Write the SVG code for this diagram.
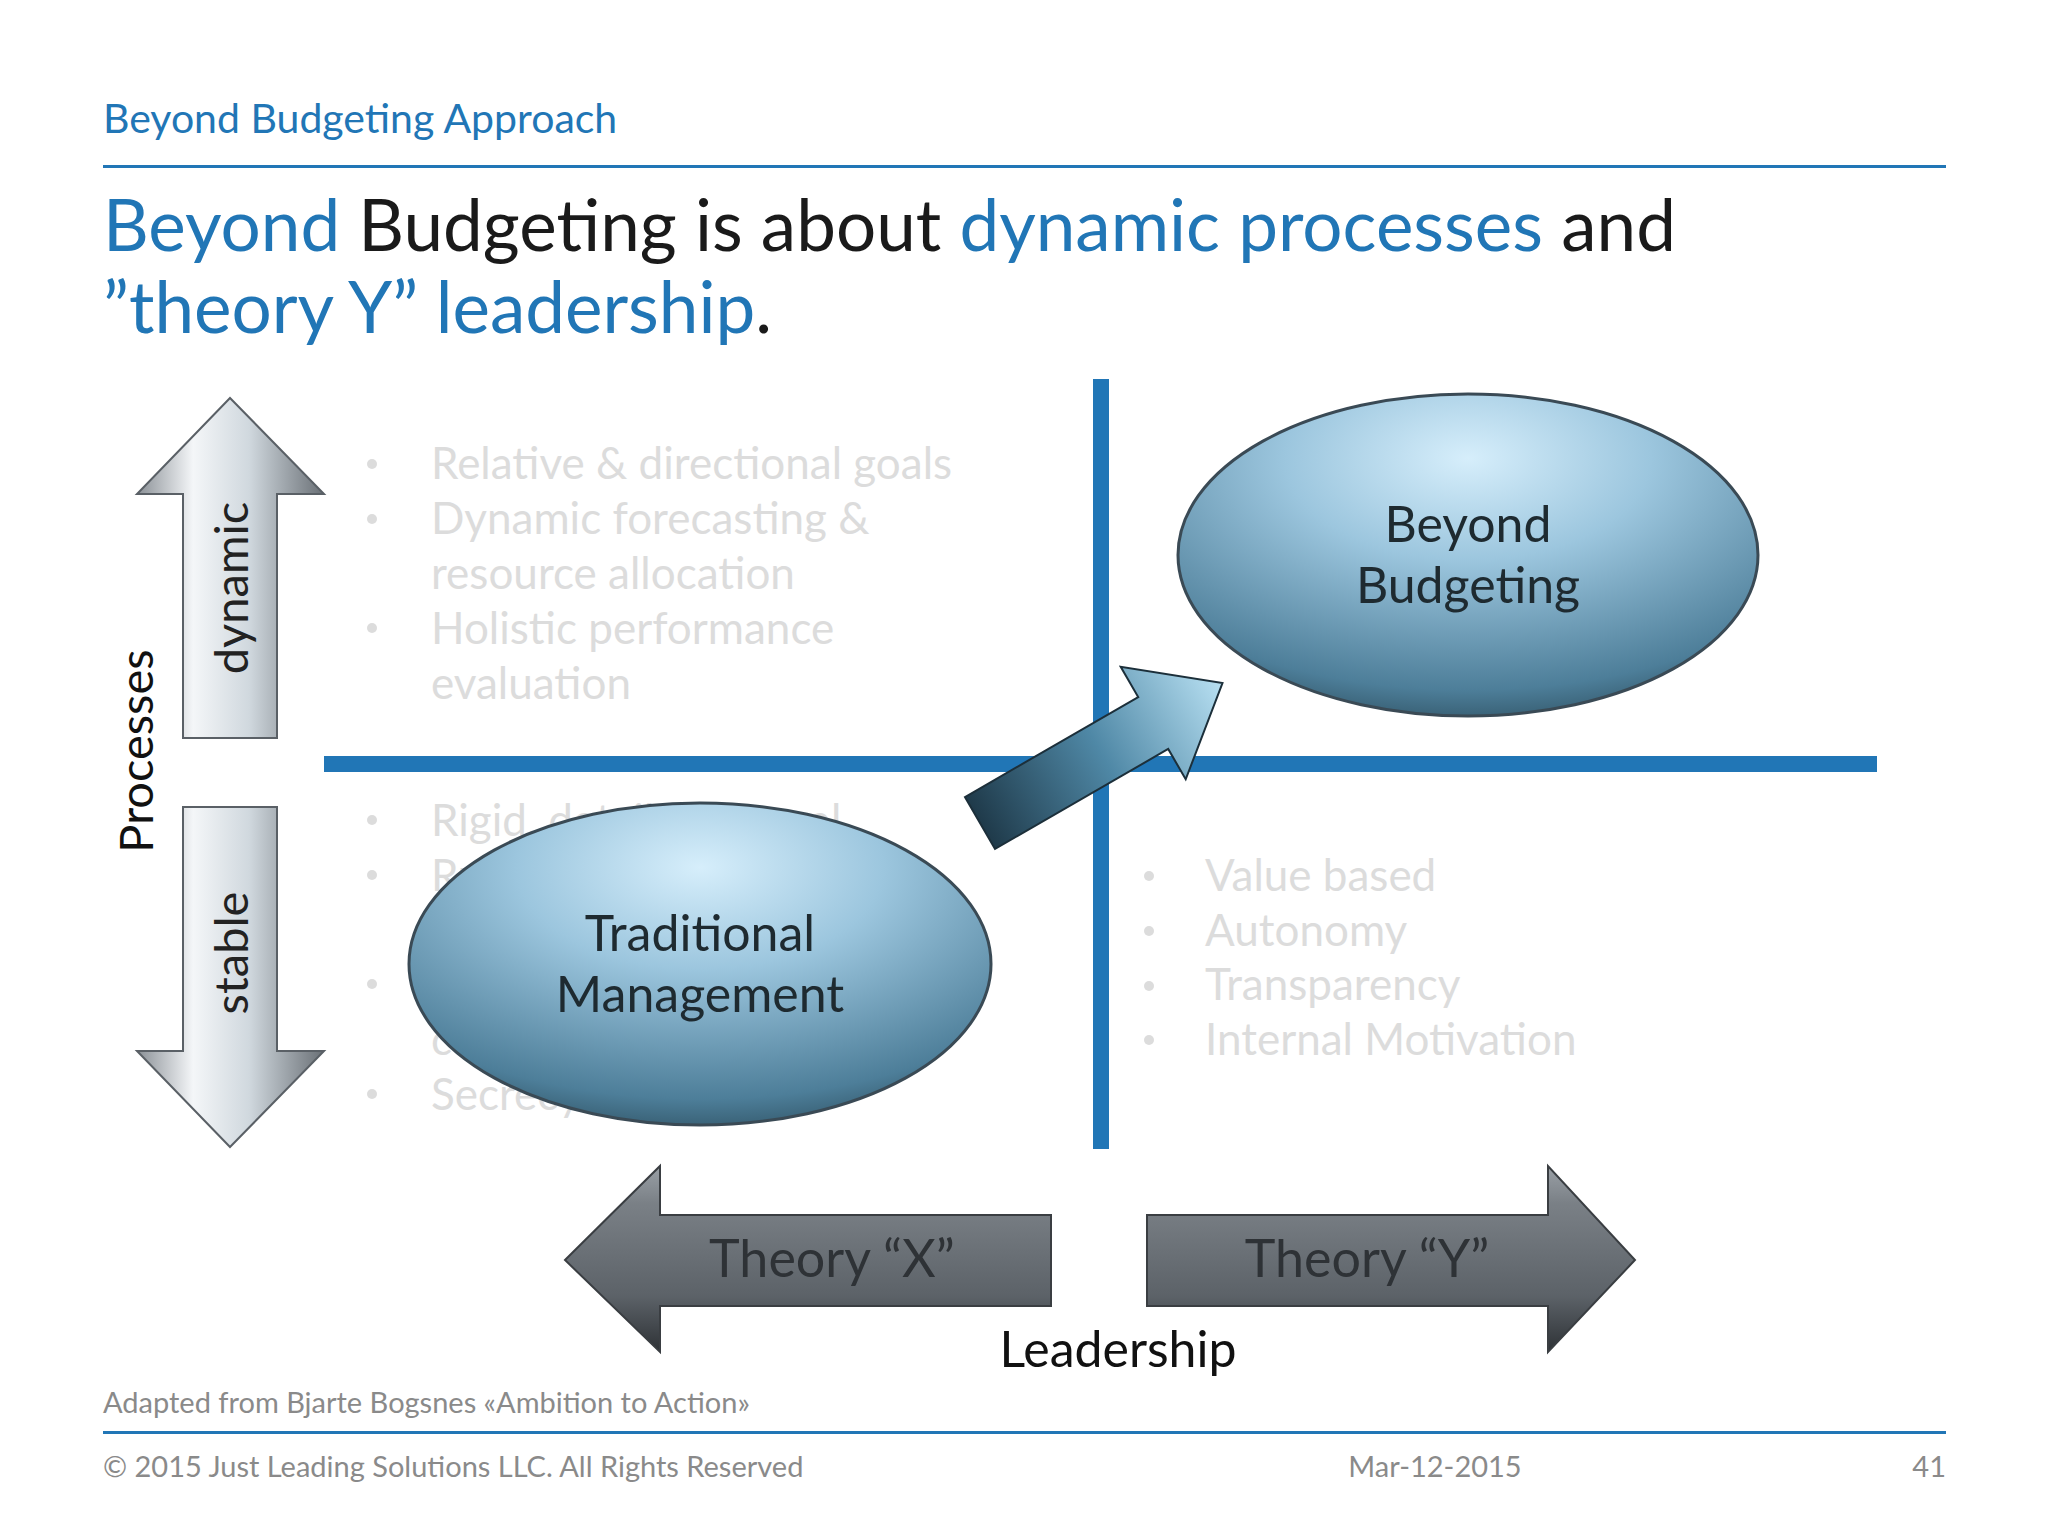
<svg xmlns="http://www.w3.org/2000/svg" width="2048" height="1536" viewBox="0 0 2048 1536">
<defs>
<style>
text{font-family:Lato,"Open Sans","DejaVu Sans",sans-serif}
.b{fill:#2176b6}.k{fill:#1a1a1a}.faint{fill:#dcdcdc;font-size:44px}
.ft{fill:#8a8a8a;font-size:29px}
.el{fill:url(#eg);stroke:#3a4a55;stroke-width:3}
.eltxt{font-size:50px;fill:#1e2a30;text-anchor:middle}
.th{font-size:52px;fill:#2e3236;text-anchor:middle}
</style>
<radialGradient id="eg" cx="0.5" cy="0.2" r="0.9">
<stop offset="0" stop-color="#d6eefb"/><stop offset="0.35" stop-color="#9cc6de"/><stop offset="0.8" stop-color="#4d7e99"/><stop offset="1" stop-color="#23414f"/>
</radialGradient>
<linearGradient id="sv" x1="0" y1="0" x2="1" y2="0">
<stop offset="0" stop-color="#8a9096"/><stop offset="0.3" stop-color="#f4f6f8"/><stop offset="0.6" stop-color="#d0d8de"/><stop offset="1" stop-color="#6a7076"/>
</linearGradient>
<linearGradient id="gr" x1="0" y1="0" x2="0" y2="1">
<stop offset="0" stop-color="#9aa0a6"/><stop offset="0.2" stop-color="#7a8086"/><stop offset="0.7" stop-color="#5c6268"/><stop offset="1" stop-color="#2e3236"/>
</linearGradient>
<linearGradient id="dg" x1="0" y1="0" x2="1" y2="0">
<stop offset="0" stop-color="#1f3a4a"/><stop offset="0.5" stop-color="#4f88a6"/><stop offset="1" stop-color="#b8e0f2"/>
</linearGradient>
</defs>
<rect width="2048" height="1536" fill="#fff"/>
<g id="header">
<text x="103" y="133" class="b" font-size="41">Beyond Budgeting Approach</text>
<rect x="103" y="165" width="1843" height="3" fill="#2176b6"/>
<text x="103" y="251" font-size="71"><tspan class="b">Beyond</tspan><tspan class="k"> Budgeting is about </tspan><tspan class="b">dynamic processes</tspan><tspan class="k"> and</tspan></text>
<text x="103" y="333" font-size="71"><tspan class="b">”theory Y” leadership</tspan><tspan class="k">.</tspan></text>
</g>
<g id="quadrant-text">
<g class="faint">
<circle cx="372" cy="464" r="5" fill="#dcdcdc"/><text x="431" y="479">Relative &amp; directional goals</text>
<circle cx="372" cy="519" r="5" fill="#dcdcdc"/><text x="431" y="534">Dynamic forecasting &amp;</text>
<text x="431" y="589">resource allocation</text>
<circle cx="372" cy="628" r="5" fill="#dcdcdc"/><text x="431" y="644">Holistic performance</text>
<text x="431" y="699">evaluation</text>
<circle cx="372" cy="820" r="5" fill="#dcdcdc"/><text x="431" y="836">Rigid, detailed annual</text>
<circle cx="372" cy="875" r="5" fill="#dcdcdc"/><text x="431" y="891">Rules and budgets</text>
<circle cx="372" cy="984" r="5" fill="#dcdcdc"/><text x="431" y="1000">Command and</text>
<text x="431" y="1055">control</text>
<circle cx="372" cy="1094" r="5" fill="#dcdcdc"/><text x="431" y="1110">Secrecy and silo pots</text>
<circle cx="1149" cy="876" r="5" fill="#dcdcdc"/><text x="1205" y="891">Value based</text>
<circle cx="1149" cy="931" r="5" fill="#dcdcdc"/><text x="1205" y="946">Autonomy</text>
<circle cx="1149" cy="986" r="5" fill="#dcdcdc"/><text x="1205" y="1000">Transparency</text>
<circle cx="1149" cy="1040" r="5" fill="#dcdcdc"/><text x="1205" y="1055">Internal Motivation</text>
</g>
</g>
<g id="connectors">
<rect x="1093" y="379" width="16" height="770" fill="#2176b6"/>
<rect x="324" y="756" width="1553" height="16" fill="#2176b6"/>
</g>
<g id="traditional">
<ellipse cx="700" cy="964" rx="291" ry="161" class="el"/>
<text x="700" y="951" class="eltxt">Traditional</text>
<text x="700" y="1012" class="eltxt">Management</text>
</g>
<g id="beyond">
<ellipse cx="1468" cy="555" rx="290" ry="161" class="el"/>
<text x="1468" y="542" class="eltxt">Beyond</text>
<text x="1468" y="603" class="eltxt">Budgeting</text>
</g>
<g id="diag-arrow">
<polygon transform="translate(980,823) rotate(-30)" points="0,-30 200,-30 200,-65 280,0 200,65 200,30 0,30" fill="url(#dg)" stroke="#1c2f3a" stroke-width="2"/>
</g>
<g id="up-arrow">
<polygon points="183,738 183,494 137,494 230,398 324,494 277,494 277,738" fill="url(#sv)" stroke="#5a6066" stroke-width="2"/>
<text transform="translate(248,588) rotate(-90)" font-size="47" fill="#222" text-anchor="middle">dynamic</text>
</g>
<g id="down-arrow">
<polygon points="183,807 277,807 277,1051 324,1051 230,1147 137,1051 183,1051" fill="url(#sv)" stroke="#5a6066" stroke-width="2"/>
<text transform="translate(248,953) rotate(-90)" font-size="47" fill="#222" text-anchor="middle">stable</text>
</g>
<text transform="translate(153,751) rotate(-90)" font-size="47" fill="#111" text-anchor="middle">Processes</text>
<g id="theory-x">
<polygon points="565,1260 660,1166 660,1215 1051,1215 1051,1306 660,1306 660,1352" fill="url(#gr)" stroke="#3a3e42" stroke-width="2"/>
<text x="832" y="1277" class="th">Theory “X”</text>
</g>
<g id="theory-y">
<polygon points="1147,1215 1548,1215 1548,1166 1635,1260 1548,1352 1548,1306 1147,1306" fill="url(#gr)" stroke="#3a3e42" stroke-width="2"/>
<text x="1367" y="1277" class="th">Theory “Y”</text>
</g>
<text x="1118" y="1367" font-size="50" fill="#111" text-anchor="middle">Leadership</text>
<g id="footer">
<text x="103" y="1413" class="ft">Adapted from Bjarte Bogsnes «Ambition to Action»</text>
<rect x="103" y="1431" width="1843" height="3" fill="#2176b6"/>
<text x="103" y="1477" class="ft">© 2015 Just Leading Solutions LLC. All Rights Reserved</text>
<text x="1435" y="1477" class="ft" text-anchor="middle">Mar-12-2015</text>
<text x="1946" y="1477" class="ft" text-anchor="end">41</text>
</g>
</svg>
